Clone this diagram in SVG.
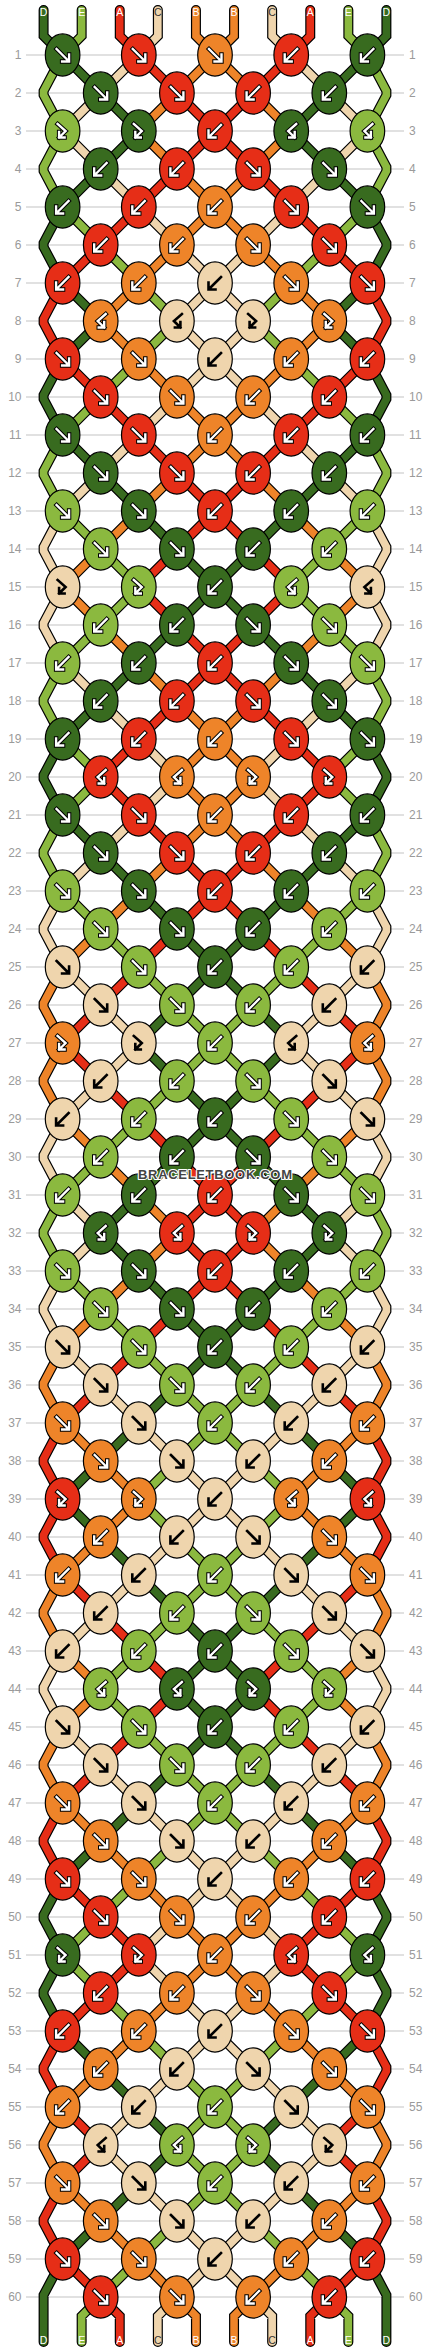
<svg xmlns="http://www.w3.org/2000/svg" xmlns:xlink="http://www.w3.org/1999/xlink" width="430" height="2352" viewBox="0 0 430 2352">
<style>
.ln{fill:none;stroke:#c4c4c4;stroke-width:1.2}
.num{font-family:"Liberation Sans",Arial,sans-serif;font-size:12px;fill:#9a9a9a}
.l{text-anchor:end}
.r{text-anchor:start}
.so{fill:none;stroke:#000;stroke-width:10;stroke-linejoin:miter;stroke-linecap:round}
.sc{fill:none;stroke-width:7.6;stroke-linejoin:miter;stroke-linecap:round}
.cD{stroke:#386b1f}.cE{stroke:#8bb93f}.cA{stroke:#e62e17}.cC{stroke:#efd5ad}.cB{stroke:#ee8429}
.ao{fill:none;stroke:#000;stroke-width:4.4;stroke-linecap:square;stroke-linejoin:miter}
.ai{fill:none;stroke:#fff;stroke-width:2.4;stroke-linecap:square;stroke-linejoin:miter}
.ab{fill:none;stroke:#000;stroke-width:2.6;stroke-linecap:square;stroke-linejoin:miter}
.tl{font-family:"Liberation Sans",Arial,sans-serif;font-size:10.5px;text-anchor:middle;fill:#fff}
.tlc{fill:#333}
.wm{font-family:"Liberation Sans",Arial,sans-serif;font-weight:bold;font-size:13px;text-anchor:middle;fill:#444;stroke:#fff;stroke-width:2.2;paint-order:stroke;stroke-linejoin:round}
</style>
<defs>
<ellipse id="eD" rx="17.3" ry="21.1" fill="#386b1f" stroke="#000" stroke-width="1.2"/>
<ellipse id="eE" rx="17.3" ry="21.1" fill="#8bb93f" stroke="#000" stroke-width="1.2"/>
<ellipse id="eA" rx="17.3" ry="21.1" fill="#e62e17" stroke="#000" stroke-width="1.2"/>
<ellipse id="eC" rx="17.3" ry="21.1" fill="#efd5ad" stroke="#000" stroke-width="1.2"/>
<ellipse id="eB" rx="17.3" ry="21.1" fill="#ee8429" stroke="#000" stroke-width="1.2"/>
<path id="pF" d="M-6,-6L5,5M6.5,-0.5V6.5H-0.5"/>
<path id="pB" d="M6,-6L-5,5M-6.5,-0.5V6.5H0.5"/>
<path id="pFB" d="M-5,-7L3,0L-3.5,6.5M-3.5,1V6.5H2"/>
<path id="pBF" d="M5,-7L-3,0L3.5,6.5M3.5,1V6.5H-2"/>
<g id="wF"><use href="#pF" class="ao"/><use href="#pF" class="ai"/></g>
<g id="wB"><use href="#pB" class="ao"/><use href="#pB" class="ai"/></g>
<g id="wFB"><use href="#pFB" class="ao"/><use href="#pFB" class="ai"/></g>
<g id="wBF"><use href="#pBF" class="ao"/><use href="#pBF" class="ai"/></g>
<g id="D-F"><use href="#eD"/><use href="#wF"/></g>
<g id="D-B"><use href="#eD"/><use href="#wB"/></g>
<g id="D-FB"><use href="#eD"/><use href="#wFB"/></g>
<g id="D-BF"><use href="#eD"/><use href="#wBF"/></g>
<g id="E-F"><use href="#eE"/><use href="#wF"/></g>
<g id="E-B"><use href="#eE"/><use href="#wB"/></g>
<g id="E-FB"><use href="#eE"/><use href="#wFB"/></g>
<g id="E-BF"><use href="#eE"/><use href="#wBF"/></g>
<g id="A-F"><use href="#eA"/><use href="#wF"/></g>
<g id="A-B"><use href="#eA"/><use href="#wB"/></g>
<g id="A-FB"><use href="#eA"/><use href="#wFB"/></g>
<g id="A-BF"><use href="#eA"/><use href="#wBF"/></g>
<g id="B-F"><use href="#eB"/><use href="#wF"/></g>
<g id="B-B"><use href="#eB"/><use href="#wB"/></g>
<g id="B-FB"><use href="#eB"/><use href="#wFB"/></g>
<g id="B-BF"><use href="#eB"/><use href="#wBF"/></g>
<g id="C-F"><use href="#eC"/><use href="#pF" class="ab"/></g>
<g id="C-B"><use href="#eC"/><use href="#pB" class="ab"/></g>
<g id="C-FB"><use href="#eC"/><use href="#pFB" class="ab"/></g>
<g id="C-BF"><use href="#eC"/><use href="#pBF" class="ab"/></g>
<path id="sD" d="M43.6,10V36L62.6,55 100.7,93 138.8,131 100.7,169 62.6,207 43.6,243 43.6,247 62.6,283 100.7,321 62.6,359 43.6,395 43.6,399 62.6,435 100.7,473 138.8,511 176.9,549 215,587 176.9,625 138.8,663 100.7,701 62.6,739 43.6,775 43.6,779 62.6,815 100.7,853 138.8,891 176.9,929 215,967 176.9,1005 138.8,1043 176.9,1081 215,1119 176.9,1157 138.8,1195 100.7,1233 138.8,1271 176.9,1309 215,1347 176.9,1385 138.8,1423 100.7,1461 62.6,1499 100.7,1537 138.8,1575 176.9,1613 215,1651 176.9,1689 215,1727 176.9,1765 138.8,1803 100.7,1841 62.6,1879 43.6,1915 43.6,1919 62.6,1955 43.6,1991 43.6,1995 62.6,2031 100.7,2069 138.8,2107 176.9,2145 138.8,2183 100.7,2221 62.6,2259 43.6,2295 43.6,2342"/>
<path id="sE" d="M81.65,10V36L62.6,55 43.6,91 43.6,95 62.6,131 43.6,167 43.6,171 62.6,207 100.7,245 138.8,283 176.9,321 138.8,359 100.7,397 62.6,435 43.6,471 43.6,475 62.6,511 100.7,549 138.8,587 100.7,625 62.6,663 43.6,699 43.6,703 62.6,739 100.7,777 62.6,815 43.6,851 43.6,855 62.6,891 100.7,929 138.8,967 176.9,1005 215,1043 176.9,1081 138.8,1119 100.7,1157 62.6,1195 43.6,1231 43.6,1235 62.6,1271 100.7,1309 138.8,1347 176.9,1385 215,1423 176.9,1461 138.8,1499 176.9,1537 215,1575 176.9,1613 138.8,1651 100.7,1689 138.8,1727 176.9,1765 215,1803 176.9,1841 138.8,1879 100.7,1917 62.6,1955 100.7,1993 138.8,2031 176.9,2069 215,2107 176.9,2145 215,2183 176.9,2221 138.8,2259 100.7,2297 81.65,2316 81.65,2342"/>
<path id="sA" d="M119.75,10V36L138.8,55 176.9,93 215,131 176.9,169 138.8,207 100.7,245 62.6,283 43.6,319 43.6,323 62.6,359 100.7,397 138.8,435 176.9,473 215,511 176.9,549 138.8,587 176.9,625 215,663 176.9,701 138.8,739 100.7,777 138.8,815 176.9,853 215,891 176.9,929 138.8,967 100.7,1005 62.6,1043 100.7,1081 138.8,1119 176.9,1157 215,1195 176.9,1233 215,1271 176.9,1309 138.8,1347 100.7,1385 62.6,1423 43.6,1459 43.6,1463 62.6,1499 43.6,1535 43.6,1539 62.6,1575 100.7,1613 138.8,1651 176.9,1689 138.8,1727 100.7,1765 62.6,1803 43.6,1839 43.6,1843 62.6,1879 100.7,1917 138.8,1955 100.7,1993 62.6,2031 43.6,2067 43.6,2071 62.6,2107 100.7,2145 62.6,2183 43.6,2219 43.6,2223 62.6,2259 100.7,2297 119.75,2316 119.75,2342"/>
<path id="sC" d="M157.85,10V36L138.8,55 100.7,93 62.6,131 100.7,169 138.8,207 176.9,245 215,283 176.9,321 215,359 176.9,397 138.8,435 100.7,473 62.6,511 43.6,547 43.6,551 62.6,587 43.6,623 43.6,627 62.6,663 100.7,701 138.8,739 176.9,777 138.8,815 100.7,853 62.6,891 43.6,927 43.6,931 62.6,967 100.7,1005 138.8,1043 100.7,1081 62.6,1119 43.6,1155 43.6,1159 62.6,1195 100.7,1233 62.6,1271 43.6,1307 43.6,1311 62.6,1347 100.7,1385 138.8,1423 176.9,1461 215,1499 176.9,1537 138.8,1575 100.7,1613 62.6,1651 43.6,1687 43.6,1691 62.6,1727 100.7,1765 138.8,1803 176.9,1841 215,1879 176.9,1917 138.8,1955 176.9,1993 215,2031 176.9,2069 138.8,2107 100.7,2145 138.8,2183 176.9,2221 215,2259 176.9,2297 157.85,2316 157.85,2342"/>
<path id="sB" d="M195.95,10V36L215,55 176.9,93 138.8,131 176.9,169 215,207 176.9,245 138.8,283 100.7,321 138.8,359 176.9,397 215,435 176.9,473 138.8,511 100.7,549 62.6,587 100.7,625 138.8,663 176.9,701 215,739 176.9,777 215,815 176.9,853 138.8,891 100.7,929 62.6,967 43.6,1003 43.6,1007 62.6,1043 43.6,1079 43.6,1083 62.6,1119 100.7,1157 138.8,1195 176.9,1233 138.8,1271 100.7,1309 62.6,1347 43.6,1383 43.6,1387 62.6,1423 100.7,1461 138.8,1499 100.7,1537 62.6,1575 43.6,1611 43.6,1615 62.6,1651 100.7,1689 62.6,1727 43.6,1763 43.6,1767 62.6,1803 100.7,1841 138.8,1879 176.9,1917 215,1955 176.9,1993 138.8,2031 100.7,2069 62.6,2107 43.6,2143 43.6,2147 62.6,2183 100.7,2221 138.8,2259 176.9,2297 195.95,2316 195.95,2342"/>
<g id="strandsOut" class="so"><use href="#sD"/><use href="#sE"/><use href="#sA"/><use href="#sC"/><use href="#sB"/></g>
<g id="strandsCol" class="sc"><use href="#sD" class="cD"/><use href="#sE" class="cE"/><use href="#sA" class="cA"/><use href="#sC" class="cC"/><use href="#sB" class="cB"/></g>
</defs>
<rect width="430" height="2352" fill="#fff"/>
<g id="rowlines">
<path class="ln" d="M26,55H404M26,93H404M26,131H404M26,169H404M26,207H404M26,245H404M26,283H404M26,321H404M26,359H404M26,397H404M26,435H404M26,473H404M26,511H404M26,549H404M26,587H404M26,625H404M26,663H404M26,701H404M26,739H404M26,777H404M26,815H404M26,853H404M26,891H404M26,929H404M26,967H404M26,1005H404M26,1043H404M26,1081H404M26,1119H404M26,1157H404M26,1195H404M26,1233H404M26,1271H404M26,1309H404M26,1347H404M26,1385H404M26,1423H404M26,1461H404M26,1499H404M26,1537H404M26,1575H404M26,1613H404M26,1651H404M26,1689H404M26,1727H404M26,1765H404M26,1803H404M26,1841H404M26,1879H404M26,1917H404M26,1955H404M26,1993H404M26,2031H404M26,2069H404M26,2107H404M26,2145H404M26,2183H404M26,2221H404M26,2259H404M26,2297H404"/>
</g>
<g id="rownumbers" class="num">
<text class="l" x="21.5" y="59">1</text><text class="r" x="409" y="59">1</text>
<text class="l" x="21.5" y="97">2</text><text class="r" x="409" y="97">2</text>
<text class="l" x="21.5" y="135">3</text><text class="r" x="409" y="135">3</text>
<text class="l" x="21.5" y="173">4</text><text class="r" x="409" y="173">4</text>
<text class="l" x="21.5" y="211">5</text><text class="r" x="409" y="211">5</text>
<text class="l" x="21.5" y="249">6</text><text class="r" x="409" y="249">6</text>
<text class="l" x="21.5" y="287">7</text><text class="r" x="409" y="287">7</text>
<text class="l" x="21.5" y="325">8</text><text class="r" x="409" y="325">8</text>
<text class="l" x="21.5" y="363">9</text><text class="r" x="409" y="363">9</text>
<text class="l" x="21.5" y="401">10</text><text class="r" x="409" y="401">10</text>
<text class="l" x="21.5" y="439">11</text><text class="r" x="409" y="439">11</text>
<text class="l" x="21.5" y="477">12</text><text class="r" x="409" y="477">12</text>
<text class="l" x="21.5" y="515">13</text><text class="r" x="409" y="515">13</text>
<text class="l" x="21.5" y="553">14</text><text class="r" x="409" y="553">14</text>
<text class="l" x="21.5" y="591">15</text><text class="r" x="409" y="591">15</text>
<text class="l" x="21.5" y="629">16</text><text class="r" x="409" y="629">16</text>
<text class="l" x="21.5" y="667">17</text><text class="r" x="409" y="667">17</text>
<text class="l" x="21.5" y="705">18</text><text class="r" x="409" y="705">18</text>
<text class="l" x="21.5" y="743">19</text><text class="r" x="409" y="743">19</text>
<text class="l" x="21.5" y="781">20</text><text class="r" x="409" y="781">20</text>
<text class="l" x="21.5" y="819">21</text><text class="r" x="409" y="819">21</text>
<text class="l" x="21.5" y="857">22</text><text class="r" x="409" y="857">22</text>
<text class="l" x="21.5" y="895">23</text><text class="r" x="409" y="895">23</text>
<text class="l" x="21.5" y="933">24</text><text class="r" x="409" y="933">24</text>
<text class="l" x="21.5" y="971">25</text><text class="r" x="409" y="971">25</text>
<text class="l" x="21.5" y="1009">26</text><text class="r" x="409" y="1009">26</text>
<text class="l" x="21.5" y="1047">27</text><text class="r" x="409" y="1047">27</text>
<text class="l" x="21.5" y="1085">28</text><text class="r" x="409" y="1085">28</text>
<text class="l" x="21.5" y="1123">29</text><text class="r" x="409" y="1123">29</text>
<text class="l" x="21.5" y="1161">30</text><text class="r" x="409" y="1161">30</text>
<text class="l" x="21.5" y="1199">31</text><text class="r" x="409" y="1199">31</text>
<text class="l" x="21.5" y="1237">32</text><text class="r" x="409" y="1237">32</text>
<text class="l" x="21.5" y="1275">33</text><text class="r" x="409" y="1275">33</text>
<text class="l" x="21.5" y="1313">34</text><text class="r" x="409" y="1313">34</text>
<text class="l" x="21.5" y="1351">35</text><text class="r" x="409" y="1351">35</text>
<text class="l" x="21.5" y="1389">36</text><text class="r" x="409" y="1389">36</text>
<text class="l" x="21.5" y="1427">37</text><text class="r" x="409" y="1427">37</text>
<text class="l" x="21.5" y="1465">38</text><text class="r" x="409" y="1465">38</text>
<text class="l" x="21.5" y="1503">39</text><text class="r" x="409" y="1503">39</text>
<text class="l" x="21.5" y="1541">40</text><text class="r" x="409" y="1541">40</text>
<text class="l" x="21.5" y="1579">41</text><text class="r" x="409" y="1579">41</text>
<text class="l" x="21.5" y="1617">42</text><text class="r" x="409" y="1617">42</text>
<text class="l" x="21.5" y="1655">43</text><text class="r" x="409" y="1655">43</text>
<text class="l" x="21.5" y="1693">44</text><text class="r" x="409" y="1693">44</text>
<text class="l" x="21.5" y="1731">45</text><text class="r" x="409" y="1731">45</text>
<text class="l" x="21.5" y="1769">46</text><text class="r" x="409" y="1769">46</text>
<text class="l" x="21.5" y="1807">47</text><text class="r" x="409" y="1807">47</text>
<text class="l" x="21.5" y="1845">48</text><text class="r" x="409" y="1845">48</text>
<text class="l" x="21.5" y="1883">49</text><text class="r" x="409" y="1883">49</text>
<text class="l" x="21.5" y="1921">50</text><text class="r" x="409" y="1921">50</text>
<text class="l" x="21.5" y="1959">51</text><text class="r" x="409" y="1959">51</text>
<text class="l" x="21.5" y="1997">52</text><text class="r" x="409" y="1997">52</text>
<text class="l" x="21.5" y="2035">53</text><text class="r" x="409" y="2035">53</text>
<text class="l" x="21.5" y="2073">54</text><text class="r" x="409" y="2073">54</text>
<text class="l" x="21.5" y="2111">55</text><text class="r" x="409" y="2111">55</text>
<text class="l" x="21.5" y="2149">56</text><text class="r" x="409" y="2149">56</text>
<text class="l" x="21.5" y="2187">57</text><text class="r" x="409" y="2187">57</text>
<text class="l" x="21.5" y="2225">58</text><text class="r" x="409" y="2225">58</text>
<text class="l" x="21.5" y="2263">59</text><text class="r" x="409" y="2263">59</text>
<text class="l" x="21.5" y="2301">60</text><text class="r" x="409" y="2301">60</text>
</g>
<g id="connectors">
<use href="#strandsOut"/>
<use href="#strandsOut" transform="matrix(-1 0 0 1 430 0)"/>
<use href="#strandsCol"/>
<use href="#strandsCol" transform="matrix(-1 0 0 1 430 0)"/>
</g>
<g id="strandlabels" class="tl">
<text x="43.6" y="16">D</text><text x="81.65" y="16">E</text><text x="119.75" y="16">A</text><text class="tlc" x="157.85" y="16">C</text><text x="195.95" y="16">B</text><text x="234.05" y="16">B</text><text class="tlc" x="272.15" y="16">C</text><text x="310.25" y="16">A</text><text x="348.35" y="16">E</text><text x="386.4" y="16">D</text>
<text x="43.6" y="2344">D</text><text x="81.65" y="2344">E</text><text x="119.75" y="2344">A</text><text class="tlc" x="157.85" y="2344">C</text><text x="195.95" y="2344">B</text><text x="234.05" y="2344">B</text><text class="tlc" x="272.15" y="2344">C</text><text x="310.25" y="2344">A</text><text x="348.35" y="2344">E</text><text x="386.4" y="2344">D</text>
</g>
<g id="knots">
<g id="k1-0"><use href="#D-F" x="62.6" y="55"/></g><g id="k1-1"><use href="#A-F" x="138.8" y="55"/></g><g id="k1-2"><use href="#B-F" x="215" y="55"/></g><g id="k1-3"><use href="#A-B" x="291.2" y="55"/></g><g id="k1-4"><use href="#D-B" x="367.4" y="55"/></g>
<g id="k2-0"><use href="#D-F" x="100.7" y="93"/></g><g id="k2-1"><use href="#A-F" x="176.9" y="93"/></g><g id="k2-2"><use href="#A-B" x="253.1" y="93"/></g><g id="k2-3"><use href="#D-B" x="329.3" y="93"/></g>
<g id="k3-0"><use href="#E-FB" x="62.6" y="131"/></g><g id="k3-1"><use href="#D-FB" x="138.8" y="131"/></g><g id="k3-2"><use href="#A-B" x="215" y="131"/></g><g id="k3-3"><use href="#D-BF" x="291.2" y="131"/></g><g id="k3-4"><use href="#E-BF" x="367.4" y="131"/></g>
<g id="k4-0"><use href="#D-B" x="100.7" y="169"/></g><g id="k4-1"><use href="#A-B" x="176.9" y="169"/></g><g id="k4-2"><use href="#A-F" x="253.1" y="169"/></g><g id="k4-3"><use href="#D-F" x="329.3" y="169"/></g>
<g id="k5-0"><use href="#D-B" x="62.6" y="207"/></g><g id="k5-1"><use href="#A-B" x="138.8" y="207"/></g><g id="k5-2"><use href="#B-B" x="215" y="207"/></g><g id="k5-3"><use href="#A-F" x="291.2" y="207"/></g><g id="k5-4"><use href="#D-F" x="367.4" y="207"/></g>
<g id="k6-0"><use href="#A-B" x="100.7" y="245"/></g><g id="k6-1"><use href="#B-B" x="176.9" y="245"/></g><g id="k6-2"><use href="#B-F" x="253.1" y="245"/></g><g id="k6-3"><use href="#A-F" x="329.3" y="245"/></g>
<g id="k7-0"><use href="#A-B" x="62.6" y="283"/></g><g id="k7-1"><use href="#B-B" x="138.8" y="283"/></g><g id="k7-2"><use href="#C-B" x="215" y="283"/></g><g id="k7-3"><use href="#B-F" x="291.2" y="283"/></g><g id="k7-4"><use href="#A-F" x="367.4" y="283"/></g>
<g id="k8-0"><use href="#B-BF" x="100.7" y="321"/></g><g id="k8-1"><use href="#C-BF" x="176.9" y="321"/></g><g id="k8-2"><use href="#C-FB" x="253.1" y="321"/></g><g id="k8-3"><use href="#B-FB" x="329.3" y="321"/></g>
<g id="k9-0"><use href="#A-F" x="62.6" y="359"/></g><g id="k9-1"><use href="#B-F" x="138.8" y="359"/></g><g id="k9-2"><use href="#C-B" x="215" y="359"/></g><g id="k9-3"><use href="#B-B" x="291.2" y="359"/></g><g id="k9-4"><use href="#A-B" x="367.4" y="359"/></g>
<g id="k10-0"><use href="#A-F" x="100.7" y="397"/></g><g id="k10-1"><use href="#B-F" x="176.9" y="397"/></g><g id="k10-2"><use href="#B-B" x="253.1" y="397"/></g><g id="k10-3"><use href="#A-B" x="329.3" y="397"/></g>
<g id="k11-0"><use href="#D-F" x="62.6" y="435"/></g><g id="k11-1"><use href="#A-F" x="138.8" y="435"/></g><g id="k11-2"><use href="#B-B" x="215" y="435"/></g><g id="k11-3"><use href="#A-B" x="291.2" y="435"/></g><g id="k11-4"><use href="#D-B" x="367.4" y="435"/></g>
<g id="k12-0"><use href="#D-F" x="100.7" y="473"/></g><g id="k12-1"><use href="#A-F" x="176.9" y="473"/></g><g id="k12-2"><use href="#A-B" x="253.1" y="473"/></g><g id="k12-3"><use href="#D-B" x="329.3" y="473"/></g>
<g id="k13-0"><use href="#E-F" x="62.6" y="511"/></g><g id="k13-1"><use href="#D-F" x="138.8" y="511"/></g><g id="k13-2"><use href="#A-B" x="215" y="511"/></g><g id="k13-3"><use href="#D-B" x="291.2" y="511"/></g><g id="k13-4"><use href="#E-B" x="367.4" y="511"/></g>
<g id="k14-0"><use href="#E-F" x="100.7" y="549"/></g><g id="k14-1"><use href="#D-F" x="176.9" y="549"/></g><g id="k14-2"><use href="#D-B" x="253.1" y="549"/></g><g id="k14-3"><use href="#E-B" x="329.3" y="549"/></g>
<g id="k15-0"><use href="#C-FB" x="62.6" y="587"/></g><g id="k15-1"><use href="#E-FB" x="138.8" y="587"/></g><g id="k15-2"><use href="#D-B" x="215" y="587"/></g><g id="k15-3"><use href="#E-BF" x="291.2" y="587"/></g><g id="k15-4"><use href="#C-BF" x="367.4" y="587"/></g>
<g id="k16-0"><use href="#E-B" x="100.7" y="625"/></g><g id="k16-1"><use href="#D-B" x="176.9" y="625"/></g><g id="k16-2"><use href="#D-F" x="253.1" y="625"/></g><g id="k16-3"><use href="#E-F" x="329.3" y="625"/></g>
<g id="k17-0"><use href="#E-B" x="62.6" y="663"/></g><g id="k17-1"><use href="#D-B" x="138.8" y="663"/></g><g id="k17-2"><use href="#A-B" x="215" y="663"/></g><g id="k17-3"><use href="#D-F" x="291.2" y="663"/></g><g id="k17-4"><use href="#E-F" x="367.4" y="663"/></g>
<g id="k18-0"><use href="#D-B" x="100.7" y="701"/></g><g id="k18-1"><use href="#A-B" x="176.9" y="701"/></g><g id="k18-2"><use href="#A-F" x="253.1" y="701"/></g><g id="k18-3"><use href="#D-F" x="329.3" y="701"/></g>
<g id="k19-0"><use href="#D-B" x="62.6" y="739"/></g><g id="k19-1"><use href="#A-B" x="138.8" y="739"/></g><g id="k19-2"><use href="#B-B" x="215" y="739"/></g><g id="k19-3"><use href="#A-F" x="291.2" y="739"/></g><g id="k19-4"><use href="#D-F" x="367.4" y="739"/></g>
<g id="k20-0"><use href="#A-BF" x="100.7" y="777"/></g><g id="k20-1"><use href="#B-BF" x="176.9" y="777"/></g><g id="k20-2"><use href="#B-FB" x="253.1" y="777"/></g><g id="k20-3"><use href="#A-FB" x="329.3" y="777"/></g>
<g id="k21-0"><use href="#D-F" x="62.6" y="815"/></g><g id="k21-1"><use href="#A-F" x="138.8" y="815"/></g><g id="k21-2"><use href="#B-B" x="215" y="815"/></g><g id="k21-3"><use href="#A-B" x="291.2" y="815"/></g><g id="k21-4"><use href="#D-B" x="367.4" y="815"/></g>
<g id="k22-0"><use href="#D-F" x="100.7" y="853"/></g><g id="k22-1"><use href="#A-F" x="176.9" y="853"/></g><g id="k22-2"><use href="#A-B" x="253.1" y="853"/></g><g id="k22-3"><use href="#D-B" x="329.3" y="853"/></g>
<g id="k23-0"><use href="#E-F" x="62.6" y="891"/></g><g id="k23-1"><use href="#D-F" x="138.8" y="891"/></g><g id="k23-2"><use href="#A-B" x="215" y="891"/></g><g id="k23-3"><use href="#D-B" x="291.2" y="891"/></g><g id="k23-4"><use href="#E-B" x="367.4" y="891"/></g>
<g id="k24-0"><use href="#E-F" x="100.7" y="929"/></g><g id="k24-1"><use href="#D-F" x="176.9" y="929"/></g><g id="k24-2"><use href="#D-B" x="253.1" y="929"/></g><g id="k24-3"><use href="#E-B" x="329.3" y="929"/></g>
<g id="k25-0"><use href="#C-F" x="62.6" y="967"/></g><g id="k25-1"><use href="#E-F" x="138.8" y="967"/></g><g id="k25-2"><use href="#D-B" x="215" y="967"/></g><g id="k25-3"><use href="#E-B" x="291.2" y="967"/></g><g id="k25-4"><use href="#C-B" x="367.4" y="967"/></g>
<g id="k26-0"><use href="#C-F" x="100.7" y="1005"/></g><g id="k26-1"><use href="#E-F" x="176.9" y="1005"/></g><g id="k26-2"><use href="#E-B" x="253.1" y="1005"/></g><g id="k26-3"><use href="#C-B" x="329.3" y="1005"/></g>
<g id="k27-0"><use href="#B-FB" x="62.6" y="1043"/></g><g id="k27-1"><use href="#C-FB" x="138.8" y="1043"/></g><g id="k27-2"><use href="#E-B" x="215" y="1043"/></g><g id="k27-3"><use href="#C-BF" x="291.2" y="1043"/></g><g id="k27-4"><use href="#B-BF" x="367.4" y="1043"/></g>
<g id="k28-0"><use href="#C-B" x="100.7" y="1081"/></g><g id="k28-1"><use href="#E-B" x="176.9" y="1081"/></g><g id="k28-2"><use href="#E-F" x="253.1" y="1081"/></g><g id="k28-3"><use href="#C-F" x="329.3" y="1081"/></g>
<g id="k29-0"><use href="#C-B" x="62.6" y="1119"/></g><g id="k29-1"><use href="#E-B" x="138.8" y="1119"/></g><g id="k29-2"><use href="#D-B" x="215" y="1119"/></g><g id="k29-3"><use href="#E-F" x="291.2" y="1119"/></g><g id="k29-4"><use href="#C-F" x="367.4" y="1119"/></g>
<g id="k30-0"><use href="#E-B" x="100.7" y="1157"/></g><g id="k30-1"><use href="#D-B" x="176.9" y="1157"/></g><g id="k30-2"><use href="#D-F" x="253.1" y="1157"/></g><g id="k30-3"><use href="#E-F" x="329.3" y="1157"/></g>
<g id="k31-0"><use href="#E-B" x="62.6" y="1195"/></g><g id="k31-1"><use href="#D-B" x="138.8" y="1195"/></g><g id="k31-2"><use href="#A-B" x="215" y="1195"/></g><g id="k31-3"><use href="#D-F" x="291.2" y="1195"/></g><g id="k31-4"><use href="#E-F" x="367.4" y="1195"/></g>
<g id="k32-0"><use href="#D-BF" x="100.7" y="1233"/></g><g id="k32-1"><use href="#A-BF" x="176.9" y="1233"/></g><g id="k32-2"><use href="#A-FB" x="253.1" y="1233"/></g><g id="k32-3"><use href="#D-FB" x="329.3" y="1233"/></g>
<g id="k33-0"><use href="#E-F" x="62.6" y="1271"/></g><g id="k33-1"><use href="#D-F" x="138.8" y="1271"/></g><g id="k33-2"><use href="#A-B" x="215" y="1271"/></g><g id="k33-3"><use href="#D-B" x="291.2" y="1271"/></g><g id="k33-4"><use href="#E-B" x="367.4" y="1271"/></g>
<g id="k34-0"><use href="#E-F" x="100.7" y="1309"/></g><g id="k34-1"><use href="#D-F" x="176.9" y="1309"/></g><g id="k34-2"><use href="#D-B" x="253.1" y="1309"/></g><g id="k34-3"><use href="#E-B" x="329.3" y="1309"/></g>
<g id="k35-0"><use href="#C-F" x="62.6" y="1347"/></g><g id="k35-1"><use href="#E-F" x="138.8" y="1347"/></g><g id="k35-2"><use href="#D-B" x="215" y="1347"/></g><g id="k35-3"><use href="#E-B" x="291.2" y="1347"/></g><g id="k35-4"><use href="#C-B" x="367.4" y="1347"/></g>
<g id="k36-0"><use href="#C-F" x="100.7" y="1385"/></g><g id="k36-1"><use href="#E-F" x="176.9" y="1385"/></g><g id="k36-2"><use href="#E-B" x="253.1" y="1385"/></g><g id="k36-3"><use href="#C-B" x="329.3" y="1385"/></g>
<g id="k37-0"><use href="#B-F" x="62.6" y="1423"/></g><g id="k37-1"><use href="#C-F" x="138.8" y="1423"/></g><g id="k37-2"><use href="#E-B" x="215" y="1423"/></g><g id="k37-3"><use href="#C-B" x="291.2" y="1423"/></g><g id="k37-4"><use href="#B-B" x="367.4" y="1423"/></g>
<g id="k38-0"><use href="#B-F" x="100.7" y="1461"/></g><g id="k38-1"><use href="#C-F" x="176.9" y="1461"/></g><g id="k38-2"><use href="#C-B" x="253.1" y="1461"/></g><g id="k38-3"><use href="#B-B" x="329.3" y="1461"/></g>
<g id="k39-0"><use href="#A-FB" x="62.6" y="1499"/></g><g id="k39-1"><use href="#B-FB" x="138.8" y="1499"/></g><g id="k39-2"><use href="#C-B" x="215" y="1499"/></g><g id="k39-3"><use href="#B-BF" x="291.2" y="1499"/></g><g id="k39-4"><use href="#A-BF" x="367.4" y="1499"/></g>
<g id="k40-0"><use href="#B-B" x="100.7" y="1537"/></g><g id="k40-1"><use href="#C-B" x="176.9" y="1537"/></g><g id="k40-2"><use href="#C-F" x="253.1" y="1537"/></g><g id="k40-3"><use href="#B-F" x="329.3" y="1537"/></g>
<g id="k41-0"><use href="#B-B" x="62.6" y="1575"/></g><g id="k41-1"><use href="#C-B" x="138.8" y="1575"/></g><g id="k41-2"><use href="#E-B" x="215" y="1575"/></g><g id="k41-3"><use href="#C-F" x="291.2" y="1575"/></g><g id="k41-4"><use href="#B-F" x="367.4" y="1575"/></g>
<g id="k42-0"><use href="#C-B" x="100.7" y="1613"/></g><g id="k42-1"><use href="#E-B" x="176.9" y="1613"/></g><g id="k42-2"><use href="#E-F" x="253.1" y="1613"/></g><g id="k42-3"><use href="#C-F" x="329.3" y="1613"/></g>
<g id="k43-0"><use href="#C-B" x="62.6" y="1651"/></g><g id="k43-1"><use href="#E-B" x="138.8" y="1651"/></g><g id="k43-2"><use href="#D-B" x="215" y="1651"/></g><g id="k43-3"><use href="#E-F" x="291.2" y="1651"/></g><g id="k43-4"><use href="#C-F" x="367.4" y="1651"/></g>
<g id="k44-0"><use href="#E-BF" x="100.7" y="1689"/></g><g id="k44-1"><use href="#D-BF" x="176.9" y="1689"/></g><g id="k44-2"><use href="#D-FB" x="253.1" y="1689"/></g><g id="k44-3"><use href="#E-FB" x="329.3" y="1689"/></g>
<g id="k45-0"><use href="#C-F" x="62.6" y="1727"/></g><g id="k45-1"><use href="#E-F" x="138.8" y="1727"/></g><g id="k45-2"><use href="#D-B" x="215" y="1727"/></g><g id="k45-3"><use href="#E-B" x="291.2" y="1727"/></g><g id="k45-4"><use href="#C-B" x="367.4" y="1727"/></g>
<g id="k46-0"><use href="#C-F" x="100.7" y="1765"/></g><g id="k46-1"><use href="#E-F" x="176.9" y="1765"/></g><g id="k46-2"><use href="#E-B" x="253.1" y="1765"/></g><g id="k46-3"><use href="#C-B" x="329.3" y="1765"/></g>
<g id="k47-0"><use href="#B-F" x="62.6" y="1803"/></g><g id="k47-1"><use href="#C-F" x="138.8" y="1803"/></g><g id="k47-2"><use href="#E-B" x="215" y="1803"/></g><g id="k47-3"><use href="#C-B" x="291.2" y="1803"/></g><g id="k47-4"><use href="#B-B" x="367.4" y="1803"/></g>
<g id="k48-0"><use href="#B-F" x="100.7" y="1841"/></g><g id="k48-1"><use href="#C-F" x="176.9" y="1841"/></g><g id="k48-2"><use href="#C-B" x="253.1" y="1841"/></g><g id="k48-3"><use href="#B-B" x="329.3" y="1841"/></g>
<g id="k49-0"><use href="#A-F" x="62.6" y="1879"/></g><g id="k49-1"><use href="#B-F" x="138.8" y="1879"/></g><g id="k49-2"><use href="#C-B" x="215" y="1879"/></g><g id="k49-3"><use href="#B-B" x="291.2" y="1879"/></g><g id="k49-4"><use href="#A-B" x="367.4" y="1879"/></g>
<g id="k50-0"><use href="#A-F" x="100.7" y="1917"/></g><g id="k50-1"><use href="#B-F" x="176.9" y="1917"/></g><g id="k50-2"><use href="#B-B" x="253.1" y="1917"/></g><g id="k50-3"><use href="#A-B" x="329.3" y="1917"/></g>
<g id="k51-0"><use href="#D-FB" x="62.6" y="1955"/></g><g id="k51-1"><use href="#A-FB" x="138.8" y="1955"/></g><g id="k51-2"><use href="#B-B" x="215" y="1955"/></g><g id="k51-3"><use href="#A-BF" x="291.2" y="1955"/></g><g id="k51-4"><use href="#D-BF" x="367.4" y="1955"/></g>
<g id="k52-0"><use href="#A-B" x="100.7" y="1993"/></g><g id="k52-1"><use href="#B-B" x="176.9" y="1993"/></g><g id="k52-2"><use href="#B-F" x="253.1" y="1993"/></g><g id="k52-3"><use href="#A-F" x="329.3" y="1993"/></g>
<g id="k53-0"><use href="#A-B" x="62.6" y="2031"/></g><g id="k53-1"><use href="#B-B" x="138.8" y="2031"/></g><g id="k53-2"><use href="#C-B" x="215" y="2031"/></g><g id="k53-3"><use href="#B-F" x="291.2" y="2031"/></g><g id="k53-4"><use href="#A-F" x="367.4" y="2031"/></g>
<g id="k54-0"><use href="#B-B" x="100.7" y="2069"/></g><g id="k54-1"><use href="#C-B" x="176.9" y="2069"/></g><g id="k54-2"><use href="#C-F" x="253.1" y="2069"/></g><g id="k54-3"><use href="#B-F" x="329.3" y="2069"/></g>
<g id="k55-0"><use href="#B-B" x="62.6" y="2107"/></g><g id="k55-1"><use href="#C-B" x="138.8" y="2107"/></g><g id="k55-2"><use href="#E-B" x="215" y="2107"/></g><g id="k55-3"><use href="#C-F" x="291.2" y="2107"/></g><g id="k55-4"><use href="#B-F" x="367.4" y="2107"/></g>
<g id="k56-0"><use href="#C-BF" x="100.7" y="2145"/></g><g id="k56-1"><use href="#E-BF" x="176.9" y="2145"/></g><g id="k56-2"><use href="#E-FB" x="253.1" y="2145"/></g><g id="k56-3"><use href="#C-FB" x="329.3" y="2145"/></g>
<g id="k57-0"><use href="#B-F" x="62.6" y="2183"/></g><g id="k57-1"><use href="#C-F" x="138.8" y="2183"/></g><g id="k57-2"><use href="#E-B" x="215" y="2183"/></g><g id="k57-3"><use href="#C-B" x="291.2" y="2183"/></g><g id="k57-4"><use href="#B-B" x="367.4" y="2183"/></g>
<g id="k58-0"><use href="#B-F" x="100.7" y="2221"/></g><g id="k58-1"><use href="#C-F" x="176.9" y="2221"/></g><g id="k58-2"><use href="#C-B" x="253.1" y="2221"/></g><g id="k58-3"><use href="#B-B" x="329.3" y="2221"/></g>
<g id="k59-0"><use href="#A-F" x="62.6" y="2259"/></g><g id="k59-1"><use href="#B-F" x="138.8" y="2259"/></g><g id="k59-2"><use href="#C-B" x="215" y="2259"/></g><g id="k59-3"><use href="#B-B" x="291.2" y="2259"/></g><g id="k59-4"><use href="#A-B" x="367.4" y="2259"/></g>
<g id="k60-0"><use href="#A-F" x="100.7" y="2297"/></g><g id="k60-1"><use href="#B-F" x="176.9" y="2297"/></g><g id="k60-2"><use href="#B-B" x="253.1" y="2297"/></g><g id="k60-3"><use href="#A-B" x="329.3" y="2297"/></g>
</g>
<text id="watermark" class="wm" x="215" y="1179" textLength="154" lengthAdjust="spacing">BRACELETBOOK.COM</text>
</svg>
